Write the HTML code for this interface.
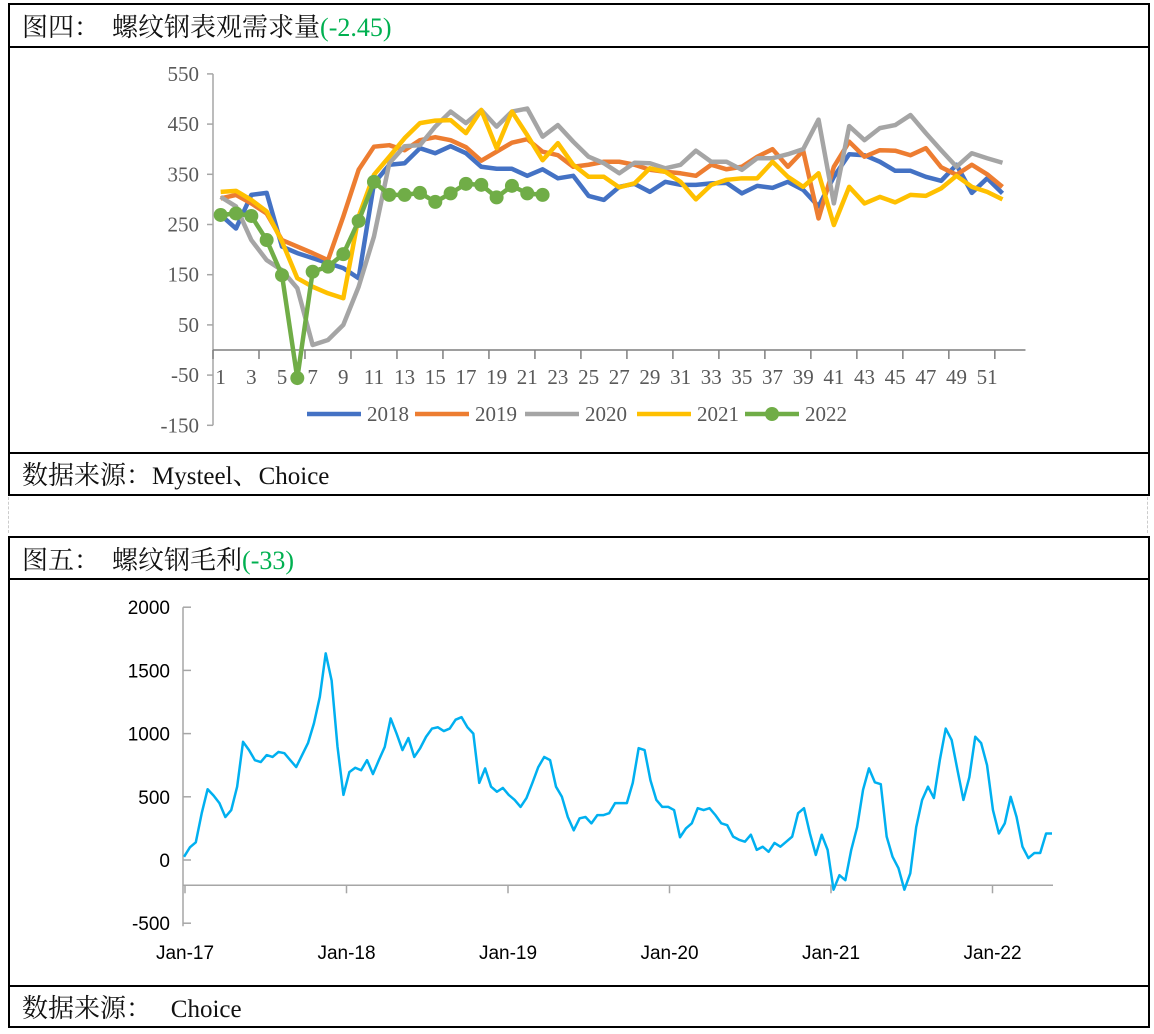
<!DOCTYPE html>
<html><head><meta charset="utf-8">
<style>
html,body{margin:0;padding:0;background:#fff;width:1154px;height:1034px;overflow:hidden}
.box{position:absolute;left:8px;width:1138px;border:2px solid #000;box-sizing:content-box}
.title{position:absolute;left:0;right:0;top:0;border-bottom:2px solid #000;font-family:"Noto Serif CJK SC",serif;font-size:26px;color:#111;padding-left:12px;box-sizing:border-box;white-space:nowrap}
.src{position:absolute;left:0;right:0;border-top:2px solid #000;font-family:"Noto Serif CJK SC",serif;font-size:26px;color:#111;padding-left:12px;box-sizing:border-box;white-space:pre}
.m{font-family:"Liberation Serif",serif;font-size:25px}
.g{color:#00b050;font-family:"Liberation Serif",serif;font-size:26px}
.sp{display:inline-block;width:12px}
svg{position:absolute;left:0;top:0}
</style></head><body>
<div class="box" style="top:3px;height:489px">
 <div class="title" style="height:43px;line-height:42px">图四：<span class="sp"></span>螺纹钢表观需求量<span class="g">(-2.45)</span></div>
 <div class="src" style="top:447px;height:42px;line-height:40px">数据来源：<span class="m">Mysteel</span>、<span class="m">Choice</span></div>
</div>
<div class="box" style="top:536px;height:488px">
 <div class="title" style="height:42px;line-height:42px">图五：<span class="sp"></span>螺纹钢毛利<span class="g">(-33)</span></div>
 <div class="src" style="top:447px;height:41px;line-height:40px">数据来源：<span class="m">   Choice</span></div>
</div>
<div style="position:absolute;left:8px;top:497px;width:1138px;height:36px;border-left:1px dashed #ccc;border-right:1px dashed #ccc"></div>
<svg id="chart" width="1154" height="1034"></svg>
<script>
// ---- Chart 1 data ----
const weeks1=[];for(let i=1;i<=52;i++)weeks1.push(i);
const yTicks1=[550,450,350,250,150,50,-50,-150];
const s2018=[269,242,309,313,206,193,183,173,163,143,332,369,372,402,392,406,392,365,361,361,347,360,342,347,307,299,325,331,315,335,329,329,332,333,312,327,323,335,319,286,345,390,388,375,357,357,345,337,369,313,342,312];
const s2019=[302,309,292,272,219,206,193,179,266,359,405,408,398,418,424,418,404,377,395,413,420,395,388,365,369,375,375,369,359,355,352,347,369,360,365,385,400,365,397,262,365,415,385,398,397,388,402,364,349,369,350,325];
const s2020=[305,286,219,179,159,123,10,20,50,126,226,372,406,408,445,475,452,478,445,475,481,425,448,415,385,372,352,373,372,362,369,397,375,375,359,382,382,390,400,459,292,446,418,442,448,468,432,398,365,392,382,373];
const s2021=[315,317,299,276,216,143,126,113,103,266,349,385,422,452,457,458,432,478,402,475,428,378,412,369,345,345,324,332,362,355,335,300,329,339,342,342,375,345,325,352,249,325,292,305,294,309,307,322,347,325,315,300];
const s2022=[269,272,267,219,149,-56,156,166,191,257,335,309,309,313,295,312,331,329,304,327,312,309];
const seriesNames=["2018","2019","2020","2021","2022"];
const seriesColors=["#4472c4","#ed7d31","#a5a5a5","#ffc000","#70ad47"];
// ---- Chart 2 data (approx. biweekly from Jan-17) ----
const yTicks2=[2000,1500,1000,500,0,-500];
const xLabels2=["Jan-17","Jan-18","Jan-19","Jan-20","Jan-21","Jan-22"];
const margin=[25,100,140,370,560,510,450,340,395,580,935,870,790,775,830,815,855,845,790,735,830,925,1080,1290,1635,1420,895,515,695,730,710,790,680,790,895,1120,1000,870,965,815,885,975,1040,1050,1020,1040,1110,1130,1050,1000,610,725,580,540,570,515,475,420,490,610,735,815,790,580,500,340,235,330,340,290,355,355,370,450,450,450,610,885,870,630,475,420,420,395,180,250,290,410,395,410,355,290,275,185,160,145,200,80,105,65,135,105,145,185,370,410,210,40,200,80,-235,-120,-160,80,260,555,725,615,600,185,25,-65,-235,-105,260,475,580,490,790,1040,950,710,475,655,975,925,750,395,210,290,500,340,105,15,55,55,210,210];

const NS="http://www.w3.org/2000/svg";
const svg=document.getElementById('chart');
function el(t,a,p){const e=document.createElementNS(NS,t);for(const k in a)e.setAttribute(k,a[k]);(p||svg).appendChild(e);return e;}

// ---- Chart 1 ----
const c1={x0:213,cat:15.33,y0:350,k:0.502};
const X1=w=>c1.x0+(w-0.5)*c1.cat;
const Y1=v=>c1.y0-v*c1.k;
const f1='Liberation Serif, serif';
const g1=el('g',{});


let a=el('line',{x1:c1.x0,y1:Y1(550),x2:c1.x0,y2:Y1(-150),stroke:'#a6a6a6','stroke-width':1.5},g1);

yTicks1.forEach(v=>{
 el('line',{x1:c1.x0-6,y1:Y1(v),x2:c1.x0,y2:Y1(v),stroke:'#a6a6a6','stroke-width':1.5},g1);
 const t=el('text',{x:c1.x0-14,y:Y1(v)+7,'text-anchor':'end','font-family':f1,'font-size':21,fill:'#595959'},g1);
 t.textContent=v;
 
});
a=el('line',{x1:c1.x0,y1:c1.y0,x2:c1.x0+53*c1.cat,y2:c1.y0,stroke:'#7f7f7f','stroke-width':1.5},g1);

for(let b=0;b<=53;b+=3){el('line',{x1:c1.x0+b*c1.cat,y1:c1.y0,x2:c1.x0+b*c1.cat,y2:c1.y0+9,stroke:'#7f7f7f','stroke-width':1.5},g1);}
weeks1.forEach(w=>{if(w%2===1){
 const t=el('text',{x:X1(w),y:c1.y0+34,'text-anchor':'middle','font-family':f1,'font-size':21,fill:'#595959'},g1);
 t.textContent=w;}});
[s2018,s2019,s2020,s2021,s2022].forEach((s,i)=>{
 const pts=s.map((v,j)=>X1(weeks1[j])+','+Y1(v)).join(' ');
 const p=el('polyline',{points:pts,fill:'none',stroke:seriesColors[i],'stroke-width':4.5,'stroke-linejoin':'round'},g1);
 
 if(i===4){s.forEach((v,j)=>{const c=el('circle',{cx:X1(weeks1[j]),cy:Y1(v),r:7,fill:seriesColors[i]},g1);
  });}
});
// legend
const lx=[307,415,525,637,745];
seriesNames.forEach((n,i)=>{
 const lg=el('g',{},g1);
 
 el('line',{x1:lx[i],y1:414,x2:lx[i]+54,y2:414,stroke:seriesColors[i],'stroke-width':4.5},lg);
 if(i===4)el('circle',{cx:lx[i]+27,cy:414,r:7,fill:seriesColors[i]},lg);
 const t=el('text',{x:lx[i]+60,y:421,'font-family':f1,'font-size':21,fill:'#595959'},lg);t.textContent=n;
});

// ---- Chart 2 ----
const c2={x0:183,xStart:185,year:161.5,y0:860,k:0.1264,xEnd:1053};
const Y2=v=>c2.y0-v*c2.k;
const step2=(1052-184)/(margin.length-1);
const X2=i=>184+i*step2;
const g2=el('g',{});


a=el('line',{x1:c2.x0,y1:Y2(2000),x2:c2.x0,y2:Y2(-500)+3,stroke:'#a6a6a6','stroke-width':1.5},g2);

yTicks2.forEach(v=>{
 el('line',{x1:c2.x0,y1:Y2(v),x2:c2.x0+8,y2:Y2(v),stroke:'#a6a6a6','stroke-width':1.5},g2);
 const t=el('text',{x:170,y:Y2(v)+7,'text-anchor':'end','font-family':'Liberation Sans, sans-serif','font-size':19,fill:'#000'},g2);
 t.textContent=v;
});
a=el('line',{x1:c2.x0,y1:Y2(-200),x2:c2.xEnd,y2:Y2(-200),stroke:'#a6a6a6','stroke-width':1.5},g2);

xLabels2.forEach((l,i)=>{
 const x=c2.xStart+i*c2.year;
 el('line',{x1:x,y1:Y2(-200),x2:x,y2:Y2(-200)+8,stroke:'#a6a6a6','stroke-width':1.5},g2);
 const t=el('text',{x:x,y:959,'text-anchor':'middle','font-family':'Liberation Sans, sans-serif','font-size':19,fill:'#000'},g2);
 t.textContent=l;
});
const ml=el('polyline',{points:margin.map((v,i)=>X2(i)+','+Y2(v)).join(' '),fill:'none',stroke:'#00b0f0','stroke-width':2.5,'stroke-linejoin':'round'},g2);


</script>
</body></html>
